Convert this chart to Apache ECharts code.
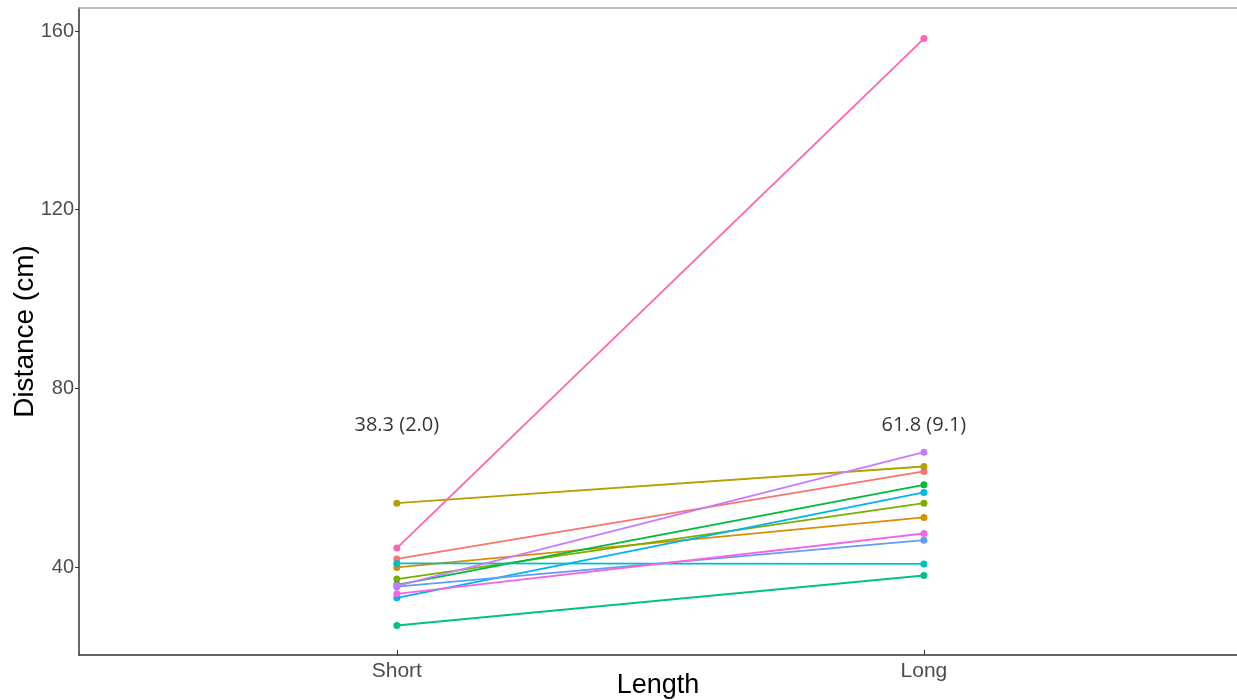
<!DOCTYPE html>
<html><head><meta charset="utf-8">
<script src="https://cdn.jsdelivr.net/npm/echarts@6/dist/echarts.min.js"></script>
<style>html,body{margin:0;padding:0;background:#fff}#c{width:1237px;height:700px}</style>
</head><body><div id="c"></div>
<script>
const categories = ['Short', 'Long'];
const catPositions = [1, 2];
const subjectColors = ['#F8766D','#DE8C00','#B79F00','#7CAE00','#00BA38','#00C08B','#00BFC4','#00B4F0','#619CFF','#C77CFF','#F564E3','#FF64B0'];
const shortValues = [41.8, 39.9, 54.3, 37.3, 36.0, 26.9, 40.8, 33.1, 35.6, 35.8, 34.0, 44.25];
const longValues  = [61.4, 51.1, 62.5, 54.3, 58.4, 38.1, 40.7, 56.7, 46.0, 65.7, 47.5, 158.3];
const yTicks = [40, 80, 120, 160];
const annotationY = [71.8, 71.8];
const annotationText = ['38.3 (2.0)', '61.8 (9.1)'];

const series = subjectColors.map((col, i) => ({
  type: 'line',
  data: [[catPositions[0], shortValues[i]], [catPositions[1], longValues[i]]],
  lineStyle: { color: col, width: 1.8 },
  itemStyle: { color: col },
  symbol: 'circle', symbolSize: 7, showSymbol: true,
  animation: false, z: 2 + i
}));
series.push({
  type: 'scatter',
  data: catPositions.map((x, i) => [x, annotationY[i], annotationText[i]]),
  symbolSize: 0,
  label: { show: true, position: 'inside', formatter: p => p.data[2],
    color: '#000', fontSize: 20, fontFamily: 'Open Sans, Liberation Sans, sans-serif' },
  animation: false, z: 20
});

const chart = echarts.init(document.getElementById('c'));
chart.setOption({
  backgroundColor: '#fff',
  grid: { left: 79, right: 0, top: 8, bottom: 45, containLabel: false, outerBoundsMode: 'none' },
  xAxis: [{
    type: 'value', min: 0.397, max: 2.594,
    axisLine: { show: true, lineStyle: { color: '#333', width: 1.5 } },
    axisTick: { show: true, inside: true, length: 5, customValues: catPositions, lineStyle: { color: '#333' } },
    axisLabel: { customValues: catPositions, formatter: v => categories[catPositions.indexOf(v)] || '',
      color: '#4D4D4D', fontSize: 21, fontFamily: 'Liberation Sans, Arial, sans-serif', margin: 6 },
    splitLine: { show: false },
    name: 'Length', nameLocation: 'middle', nameGap: 17, nameMoveOverlap: false,
    nameTextStyle: { color: '#000', fontSize: 27, fontFamily: 'Liberation Sans, Arial, sans-serif' }
  }, {
    type: 'value', min: 0.397, max: 2.594, position: 'top',
    axisLine: { show: true, lineStyle: { color: '#aaa', width: 1.5 } },
    axisTick: { show: false }, axisLabel: { show: false }, splitLine: { show: false }
  }],
  yAxis: {
    type: 'value', min: 20.3, max: 165.15,
    axisLine: { show: true, lineStyle: { color: '#333', width: 1.5 } },
    axisTick: { show: true, length: 4, customValues: yTicks, lineStyle: { color: '#333' } },
    axisLabel: { customValues: yTicks, color: '#4D4D4D', fontSize: 20, fontFamily: 'Liberation Sans, Arial, sans-serif', margin: 5 },
    splitLine: { show: false },
    name: 'Distance (cm)', nameLocation: 'middle', nameGap: 40, nameRotate: 90, nameMoveOverlap: false,
    nameTextStyle: { color: '#000', fontSize: 28, fontFamily: 'Liberation Sans, Arial, sans-serif' }
  },
  series: series
});
</script></body></html>
